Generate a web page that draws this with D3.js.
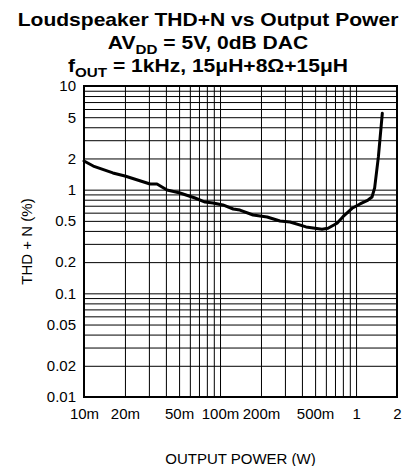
<!DOCTYPE html>
<html>
<head>
<meta charset="utf-8">
<script src="https://cdn.jsdelivr.net/npm/d3@7"></script>
<style>
  html, body { margin: 0; padding: 0; background: #fff; }
  svg { display: block; }
  text { font-family: "Liberation Sans", Arial, Helvetica, sans-serif; fill: #000; }
</style>
</head>
<body>
<svg id="chart" width="405" height="466"></svg>
<script>
// ---- data ----
const powerW = [0.01, 0.0117, 0.0163, 0.02, 0.0306, 0.0344, 0.0408, 0.0508, 0.0655, 0.0776,
                0.0889, 0.105, 0.125, 0.14, 0.175, 0.222, 0.276, 0.327, 0.429, 0.562,
                0.622, 0.725, 0.802, 0.935, 1.07, 1.225, 1.31, 1.37, 1.46, 1.56];
const thdPct = [1.89, 1.69, 1.45, 1.355, 1.135, 1.135, 0.993, 0.929, 0.831, 0.76,
                0.744, 0.712, 0.651, 0.636, 0.57, 0.545, 0.499, 0.488, 0.437, 0.415,
                0.424, 0.474, 0.549, 0.661, 0.728, 0.794, 0.849, 1.04, 2.08, 5.46];

const xTickValues = [0.01, 0.02, 0.05, 0.1, 0.2, 0.5, 1, 2];
const xTickLabels = ["10m", "20m", "50m", "100m", "200m", "500m", "1", "2"];
const yTickValues = [10, 5, 2, 1, 0.5, 0.2, 0.1, 0.05, 0.02, 0.01];
const yTickLabels = ["10", "5", "2", "1", "0.5", "0.2", "0.1", "0.05", "0.02", "0.01"];

const xGridValues = [0.01,0.02,0.03,0.04,0.05,0.06,0.07,0.08,0.09,
                     0.1,0.2,0.3,0.4,0.5,0.6,0.7,0.8,0.9,1,2];
const yGridValues = [0.01,0.02,0.03,0.04,0.05,0.06,0.07,0.08,0.09,
                     0.1,0.2,0.3,0.4,0.5,0.6,0.7,0.8,0.9,
                     1,2,3,4,5,6,7,8,9,10];

const xLabel = "OUTPUT POWER (W)";
const yLabel = "THD + N (%)";

// ---- layout ----
const L = 84, R = 397, T = 86, B = 397;
const svg = d3.select("#chart");

const x = d3.scaleLog().domain([0.01, 2]).range([L, R]);
const y = d3.scaleLog().domain([0.01, 10]).range([B, T]);

// grid
const gx = svg.append("g").attr("transform", `translate(0,${B})`)
  .call(d3.axisBottom(x).tickValues(xGridValues).tickSize(-(B - T)).tickFormat(""));
gx.select(".domain").remove();
gx.selectAll("line").attr("stroke", "#000").attr("stroke-width", 1);

const gy = svg.append("g").attr("transform", `translate(${L},0)`)
  .call(d3.axisLeft(y).tickValues(yGridValues).tickSize(-(R - L)).tickFormat(""));
gy.select(".domain").remove();
gy.selectAll("line").attr("stroke", "#000").attr("stroke-width", 1);

// frame
svg.append("rect").attr("x", L).attr("y", T).attr("width", R - L).attr("height", B - T)
  .attr("fill", "none").attr("stroke", "#000").attr("stroke-width", 2);

// tick labels
const ax = svg.append("g").attr("transform", `translate(0,${B})`)
  .call(d3.axisBottom(x).tickValues(xTickValues).tickSize(0).tickPadding(11)
    .tickFormat((d, i) => xTickLabels[i]));
ax.select(".domain").remove();
ax.selectAll("text").attr("font-size", 15).attr("font-family", null);

const ay = svg.append("g").attr("transform", `translate(${L},0)`)
  .call(d3.axisLeft(y).tickValues(yTickValues).tickSize(0).tickPadding(8)
    .tickFormat((d, i) => yTickLabels[i]));
ay.select(".domain").remove();
ay.selectAll("text").attr("font-size", 15).attr("font-family", null);

// curve
const line = d3.line().x(d => x(d[0])).y(d => y(d[1]));
svg.append("path")
  .datum(powerW.map((p, i) => [p, thdPct[i]]))
  .attr("d", line)
  .attr("fill", "none").attr("stroke", "#000").attr("stroke-width", 3)
  .attr("stroke-linejoin", "round").attr("stroke-linecap", "round");

// axis titles
svg.append("text").attr("x", (L + R) / 2).attr("y", 464)
  .attr("text-anchor", "middle").attr("font-size", 15).text(xLabel);
svg.append("text").attr("transform", `translate(32,${(T + B) / 2}) rotate(-90)`)
  .attr("text-anchor", "middle").attr("font-size", 15).text(yLabel);

// title
const tg = svg.append("g").attr("transform", "translate(208,0) scale(1.17,1)");
tg.append("text").attr("x", 0).attr("y", 26).attr("text-anchor", "middle")
  .attr("font-size", 18).attr("font-weight", "bold").text("Loudspeaker THD+N vs Output Power");
const t2 = tg.append("text").attr("x", 0).attr("y", 49).attr("text-anchor", "middle")
  .attr("font-size", 18).attr("font-weight", "bold");
t2.append("tspan").text("AV");
t2.append("tspan").attr("font-size", 13).attr("dy", 5).text("DD");
t2.append("tspan").attr("dy", -5).text(" = 5V, 0dB DAC");
const t3 = tg.append("text").attr("x", 0).attr("y", 72).attr("text-anchor", "middle")
  .attr("font-size", 18).attr("font-weight", "bold");
t3.append("tspan").text("f");
t3.append("tspan").attr("font-size", 13).attr("dy", 5).text("OUT");
t3.append("tspan").attr("dy", -5).text(" = 1kHz, 15\u03BCH+8\u03A9+15\u03BCH");
</script>
</body>
</html>
